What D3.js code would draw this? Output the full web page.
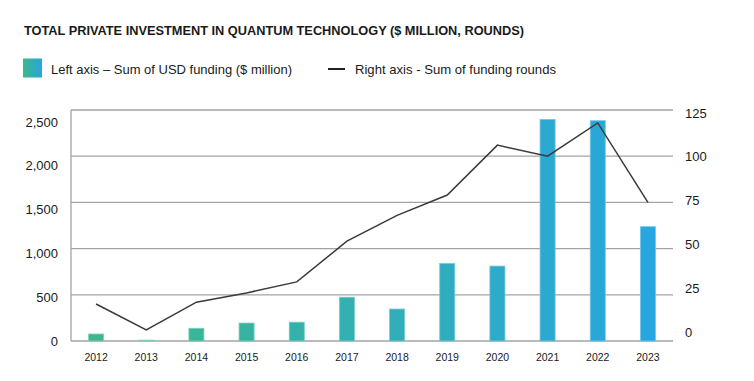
<!DOCTYPE html>
<html><head><meta charset="utf-8">
<script src="https://cdn.jsdelivr.net/npm/d3@7"></script>
<style>body{margin:0;background:#fff}svg{display:block}text{font-family:"Liberation Sans",Arial,Helvetica,sans-serif;fill:#1a1a1a}</style>
</head><body><svg id="c" width="754" height="381"></svg>
<script>
const years = ["2012","2013","2014","2015","2016","2017","2018","2019","2020","2021","2022","2023"];
const funding = [80,10,145,205,215,500,365,885,855,2530,2515,1305];
const rounds = [20,6,21,26,32,54,68,79,106,100,118,75];
const leftTicks = [0,500,1000,1500,2000,2500];
const rightTicks = [0,25,50,75,100,125];

const svg = d3.select("#c");
const x = d3.scaleBand().domain(years).range([71,673]).paddingInner(0.7).paddingOuter(0.35);
const yL = d3.scaleLinear().domain([0,2500]).range([341,122]);
const yR = d3.scaleLinear().domain([0,125]).range([341,110]);
const yRlab = d3.scaleLinear().domain([0,125]).range([332,113]);
const col = d3.scaleLinear().domain([0,years.length-1]).range(["#3db88b","#27a6df"]).interpolate(d3.interpolateRgb);

// title
svg.append("text").attr("x",24).attr("y",35).attr("font-size",12.5).attr("font-weight","bold")
  .attr("textLength",500).attr("lengthAdjust","spacingAndGlyphs")
  .text("TOTAL PRIVATE INVESTMENT IN QUANTUM TECHNOLOGY ($ MILLION, ROUNDS)");

// legend
const defs = svg.append("defs");
const lg = defs.append("linearGradient").attr("id","lg");
lg.append("stop").attr("offset","0%").attr("stop-color","#3db88b");
lg.append("stop").attr("offset","100%").attr("stop-color","#27a6df");
svg.append("rect").attr("x",23).attr("y",58.5).attr("width",19).attr("height",19).attr("fill","url(#lg)");
svg.append("text").attr("x",51).attr("y",74.3).attr("font-size",13.5)
  .attr("textLength",241).attr("lengthAdjust","spacingAndGlyphs")
  .text("Left axis \u2013 Sum of USD funding ($ million)");
svg.append("line").attr("x1",328).attr("x2",345).attr("y1",69).attr("y2",69).attr("stroke","#222").attr("stroke-width",2);
svg.append("text").attr("x",355).attr("y",74.4).attr("font-size",13.5)
  .attr("textLength",201).attr("lengthAdjust","spacingAndGlyphs")
  .text("Right axis - Sum of funding rounds");

// gridlines
svg.append("g").selectAll("line").data(rightTicks).join("line")
  .attr("x1",71).attr("x2",673).attr("y1",d=>yR(d)).attr("y2",d=>yR(d))
  .attr("stroke","#a3a3a3").attr("stroke-width",1.3);
svg.append("line").attr("x1",71).attr("x2",71).attr("y1",yR(125)).attr("y2",yR(0))
  .attr("stroke","#a3a3a3").attr("stroke-width",1.3);

// bars
svg.append("g").selectAll("rect").data(funding).join("rect")
  .attr("x",(d,i)=>x(years[i])).attr("width",x.bandwidth())
  .attr("y",d=>yL(d)).attr("height",d=>yL(0)-yL(d))
  .attr("fill",(d,i)=>col(i))
  .attr("stroke",(d,i)=>d3.interpolateRgb(col(i),"#ffffff")(0.35)).attr("stroke-width",0.8);

// line
const line = d3.line().x((d,i)=>x(years[i])+x.bandwidth()/2).y(d=>yR(d));
svg.append("path").datum(rounds).attr("d",line).attr("fill","none").attr("stroke","#3a3a3a").attr("stroke-width",1.5);

// left axis labels
const fmt = d3.format(",");
svg.append("g").selectAll("text").data(leftTicks).join("text")
  .attr("x",58).attr("y",d=>yL(d)).attr("dy","0.36em").attr("text-anchor","end")
  .attr("font-size",13).text(d=>fmt(d));
// right axis labels
svg.append("g").selectAll("text").data(rightTicks).join("text")
  .attr("x",685).attr("y",d=>yRlab(d)).attr("dy","0.36em")
  .attr("font-size",13).text(d=>d);
// x labels
svg.append("g").selectAll("text").data(years).join("text")
  .attr("x",d=>x(d)+x.bandwidth()/2).attr("y",357).attr("dy","0.36em").attr("text-anchor","middle")
  .attr("font-size",10.5).attr("fill",d=>d==="2016"?"#23357a":"#1a1a1a").text(d=>d);
</script></body></html>
